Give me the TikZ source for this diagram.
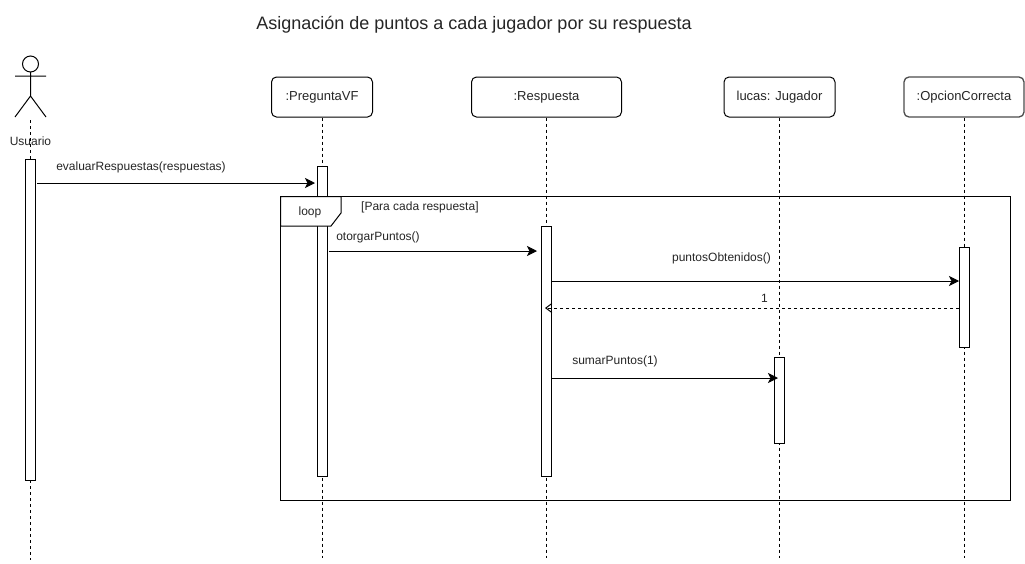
\documentclass[tikz,border=0pt]{standalone}
\usepackage{fontspec}
\setmainfont{Liberation Sans}
\usetikzlibrary{arrows.meta}
\tikzset{
  every node/.style={font=\fontsize{12}{14}\selectfont, text=black!85},
  objbox/.style={draw=black, line width=1pt, rounded corners=5pt, fill=white, minimum height=40pt, inner sep=0pt, anchor=center, font=\fontsize{13}{15}\selectfont},
  bar/.style={draw=black, line width=1pt, fill=white, minimum width=10pt, inner sep=0pt},
  lifeline/.style={draw=black, line width=1pt, dash pattern=on 3pt off 3pt},
  msg/.style={draw=black, line width=0.9pt, -{Stealth[length=10pt,width=10pt,inset=2.5pt]}},
  ret/.style={draw=black, line width=1pt, dash pattern=on 3pt off 3pt, -{Straight Barb[length=6pt,width=9pt]}},
  frame/.style={draw=black, line width=1pt},
  lab/.style={inner sep=0pt}
}
\begin{document}
\begin{tikzpicture}[x=1pt,y=-1pt]
\useasboundingbox (0,0) rectangle (1025,563);
\fill[white] (0,0) rectangle (1025,563);

\node[lab, font=\fontsize{18}{21}\selectfont] (title) at (474,25) {Asignación de puntos a cada jugador por su respuesta};

% object boxes
\node[objbox, minimum width=101pt] (preg) at (322,97) {\raisebox{-0.5pt}{:PreguntaVF}};
\node[objbox, minimum width=150pt] (resp) at (546.5,97) {\raisebox{-0.5pt}{:Respuesta}};
\node[objbox, minimum width=111pt] (jug) at (779.5,97) {\raisebox{-0.5pt}{lucas: Jugador}};
\node[objbox, minimum width=120pt, draw=black!70, line width=1.3pt] (opc) at (964,97) {\raisebox{-1.5pt}{:OpcionCorrecta}};

% actor
\coordinate (head) at (30.5,64);
\coordinate (neck) at (30.5,72);
\coordinate (hip) at (30.5,96);
\coordinate (handL) at (15,76);
\coordinate (handR) at (46,76);
\coordinate (footL) at (15,117);
\coordinate (footR) at (46,117);
\draw[line width=1pt] (head) circle (8pt);
\draw[line width=1pt] (neck) -- (hip) (handL) -- (handR) (footL) -- (hip) -- (footR);
\node[lab] (usr) at (30.5,141) {Usuario};

% lifeline ends
\coordinate (uTop) at (30.5,120);
\coordinate (uEnd) at (30.5,560);
\coordinate (pEnd) at (322,558);
\coordinate (rEnd) at (546.5,558);
\coordinate (jEnd) at (779.5,558);
\coordinate (oEnd) at (964,558);

\draw[lifeline] (uTop) -- (uEnd);
\draw[lifeline] (preg.south) -- (pEnd);
\draw[lifeline] (resp.south) -- (rEnd);
\draw[lifeline] (jug.south) -- (jEnd);
\draw[lifeline] (opc.south) -- (oEnd);

% activation bars
\node[bar, minimum height=321pt] (bU) at (30.5,319.5) {};
\node[bar, minimum height=310pt] (bP) at (322,321) {};
\node[bar, minimum height=250pt] (bR) at (546.5,351) {};
\node[bar, minimum height=86pt] (bJ) at (779,400) {};
\node[bar, minimum height=100pt] (bO) at (964.5,297) {};

% loop frame
\coordinate (fTL) at (280.5,196.5);
\coordinate (fBR) at (1010.5,500.5);
\coordinate (t1) at (341,196.5);
\coordinate (t2) at (341,213);
\coordinate (t3) at (331,226);
\coordinate (t4) at (280.5,226);
\draw[frame] (fTL) rectangle (fBR);
\draw[frame, fill=white] (fTL) -- (t1) -- (t2) -- (t3) -- (t4) -- cycle;
\node[lab] (loop) at (310,212.5) {loop};
\node[lab, anchor=west] (guard) at (361,207) {[Para cada respuesta]};

% messages
\coordinate (m1a) at (37,183);
\coordinate (m1b) at (315,183);
\coordinate (m2a) at (329,251);
\coordinate (m2b) at (537,251);
\coordinate (m3a) at (551,281);
\coordinate (m3b) at (959,281);
\coordinate (m4a) at (959,308);
\coordinate (m4b) at (545,308);
\coordinate (m5a) at (551,378);
\coordinate (m5b) at (778,378);

\draw[msg] (m1a) -- (m1b);
\draw[msg] (m2a) -- (m2b);
\draw[msg] (m3a) -- (m3b);
\draw[ret] (m4a) -- (m4b);
\draw[msg] (m5a) -- (m5b);

\node[lab] (l1) at (141,167) {evaluarRespuestas(respuestas)};
\node[lab] (l2) at (378,237.5) {otorgarPuntos()};
\node[lab] (l3) at (721.5,258) {puntosObtenidos()};
\node[lab] (l4) at (764.5,298) {1};
\node[lab] (l5) at (615,361) {sumarPuntos(1)};
\end{tikzpicture}
\end{document}
